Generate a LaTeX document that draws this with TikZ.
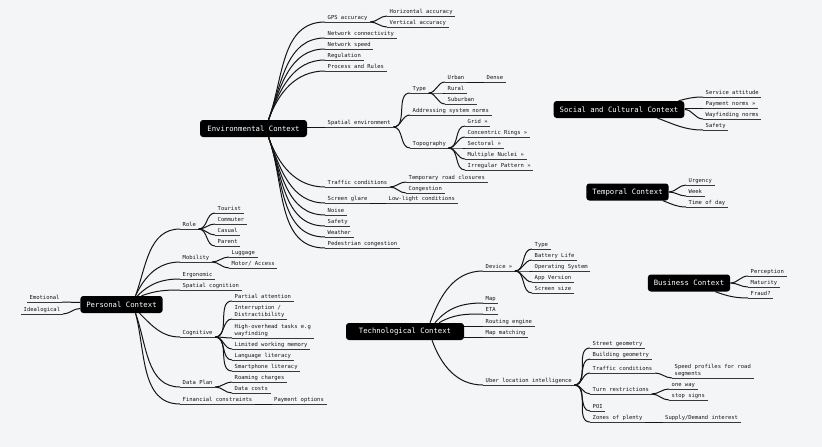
\documentclass[tikz,border=0pt]{standalone}
\usepackage{fontspec}
\newfontfamily\mapfont{DejaVu Sans Mono}
\newcommand\leaffont{\mapfont\fontsize{5.5}{7.5}\selectfont}
\newcommand\ctxfont{\mapfont\fontsize{7.3}{8}\selectfont}
\definecolor{ink}{HTML}{151515}
\definecolor{paper}{HTML}{F4F5F7}
\tikzset{
  ctx/.style={fill=black, text=white, font=\ctxfont, rounded corners=3pt, inner xsep=6pt, minimum height=17pt},
  uline/.style={draw=ink!85, line width=1pt},
  link/.style={draw=ink, line width=1pt},
  leaf/.style={anchor=south west, font=\leaffont, text=ink, inner xsep=2.5pt, inner ysep=1pt,
    text height=4pt, text depth=1.2pt,
    append after command={(\tikzlastnode.south west) edge[uline] (\tikzlastnode.south east)}},
  twoline/.style={align=left, text height=, text depth=},
  branch/.style={out=0, in=180}
}
\begin{document}
\begin{tikzpicture}[x=1pt,y=-1pt]
\fill[paper] (0,0) rectangle (822,447);

% main contexts
\node[ctx, minimum width=107pt] (env) at (253.5,128.5) {Environmental Context};
\node[ctx] (soc) at (619,109.5) {Social and Cultural Context};
\node[ctx] (temp) at (627.5,192) {Temporal Context};
\node[ctx] (bus) at (689,283) {Business Context};
\node[ctx] (pers) at (121.5,304.5) {Personal Context};
\node[ctx, minimum width=118pt] (tech) at (405,331.5) {Technological Context};

% environmental
\node[leaf] (gps) at (325,22) {GPS accuracy};
\node[leaf] (hacc) at (387,16) {Horizontal accuracy};
\node[leaf] (vacc) at (387,27) {Vertical accuracy};
\node[leaf] (netcon) at (325,38) {Network connectivity};
\node[leaf] (netspd) at (325,49) {Network speed};
\node[leaf] (regul) at (325,60) {Regulation};
\node[leaf] (procr) at (325,71) {Process and Rules};
\node[leaf] (spat) at (325,127) {Spatial environment};
\node[leaf] (stype) at (410,93) {Type};
\node[leaf] (urban) at (445,82) {Urban};
\node[leaf] (dense) at (484,82) {Dense};
\node[leaf] (rural) at (445,93) {Rural};
\node[leaf] (suburb) at (445,104) {Suburban};
\node[leaf] (addr) at (410,115) {Addressing system norms};
\node[leaf] (topo) at (410,148) {Topography};
\node[leaf] (grid) at (465,126) {Grid »};
\node[leaf] (conc) at (465,137) {Concentric Rings »};
\node[leaf] (sect) at (465,148) {Sectoral »};
\node[leaf] (nucl) at (465,159) {Multiple Nuclei »};
\node[leaf] (irreg) at (465,170) {Irregular Pattern »};
\node[leaf] (traf) at (325,187) {Traffic conditions};
\node[leaf] (tmpcl) at (406,182) {Temporary road closures};
\node[leaf] (cong) at (406,193) {Congestion};
\node[leaf] (glare) at (325,203) {Screen glare};
\node[leaf] (lowl) at (386,203) {Low-light conditions};
\node[leaf] (noise) at (325,215) {Noise};
\node[leaf] (esafe) at (325,226) {Safety};
\node[leaf] (weath) at (325,237) {Weather};
\node[leaf] (pedc) at (325,248) {Pedestrian congestion};

\draw[link] ([xshift=15pt]env.north) to[out=70,in=180] (gps.south west);
\draw[link] ([xshift=15pt]env.north) to[out=70,in=180] (netcon.south west);
\draw[link] ([xshift=15pt]env.north) to[out=70,in=180] (netspd.south west);
\draw[link] ([xshift=15pt]env.north) to[out=70,in=180] (regul.south west);
\draw[link] ([xshift=15pt]env.north) to[out=70,in=180] (procr.south west);
\draw[link] (gps.south east) to[branch] (hacc.south west);
\draw[link] (gps.south east) to[branch] (vacc.south west);
\draw[link] (env.east |- spat.south west) -- (spat.south west);
\draw[link] (spat.south east) to[branch] (stype.south west);
\draw[link] (spat.south east) to[branch] (addr.south west);
\draw[link] (spat.south east) to[branch] (topo.south west);
\draw[link] (stype.south east) to[branch] (urban.south west);
\draw[link] (stype.south east) to[branch] (rural.south west);
\draw[link] (stype.south east) to[branch] (suburb.south west);
\draw[link] (urban.south east) -- (dense.south west);
\draw[link] (topo.south east) to[branch] (grid.south west);
\draw[link] (topo.south east) to[branch] (conc.south west);
\draw[link] (topo.south east) to[branch] (sect.south west);
\draw[link] (topo.south east) to[branch] (nucl.south west);
\draw[link] (topo.south east) to[branch] (irreg.south west);
\draw[link] ([xshift=15pt]env.south) to[out=-70,in=180] (traf.south west);
\draw[link] ([xshift=15pt]env.south) to[out=-70,in=180] (glare.south west);
\draw[link] ([xshift=15pt]env.south) to[out=-70,in=180] (noise.south west);
\draw[link] ([xshift=15pt]env.south) to[out=-70,in=180] (esafe.south west);
\draw[link] ([xshift=15pt]env.south) to[out=-70,in=180] (weath.south west);
\draw[link] ([xshift=15pt]env.south) to[out=-70,in=180] (pedc.south west);
\draw[link] (traf.south east) to[branch] (tmpcl.south west);
\draw[link] (traf.south east) to[branch] (cong.south west);
\draw[link] (glare.south east) -- (lowl.south west);

% social, temporal, business
\node[leaf] (svc) at (703,97) {Service attitude};
\node[leaf] (paym) at (703,108) {Payment norms »};
\node[leaf] (wayf) at (703,119) {Wayfinding norms};
\node[leaf] (ssafe) at (703,130) {Safety};
\draw[link] ([xshift=-6pt]soc.north east) to[out=15,in=180] (svc.south west);
\draw[link] (soc.east |- paym.south west) -- (paym.south west);
\draw[link] (soc.east) to[branch] (wayf.south west);
\draw[link] ([xshift=-27pt]soc.south east) to[out=-20,in=180] (ssafe.south west);

\node[leaf] (urg) at (686,185) {Urgency};
\node[leaf] (week) at (686,196) {Week};
\node[leaf] (tod) at (686,207) {Time of day};
\draw[link] (temp.east) to[branch] (urg.south west);
\draw[link] (temp.east) to[branch] (week.south west);
\draw[link] ([xshift=-6pt]temp.south east) to[out=-20,in=180] (tod.south west);

\node[leaf] (perc) at (748,276) {Perception};
\node[leaf] (matur) at (748,287) {Maturity};
\node[leaf] (fraud) at (748,298) {Fraud?};
\draw[link] (bus.east) to[branch] (perc.south west);
\draw[link] (bus.east) to[branch] (matur.south west);
\draw[link] ([xshift=-15pt]bus.south east) to[out=-20,in=180] (fraud.south west);

% personal
\node[leaf] (emo) at (27,302) {Emotional};
\node[leaf] (ideal) at (21,314) {Idealogical};
\draw[link] (emo.south east) to[branch] ([yshift=2pt]pers.west);
\draw[link] (ideal.south east) to[branch] ([yshift=-4pt]pers.west);
\node[leaf] (role) at (180,229) {Role};
\node[leaf] (tour) at (215,213) {Tourist};
\node[leaf] (comm) at (215,224) {Commuter};
\node[leaf] (casual) at (215,235) {Casual};
\node[leaf] (parent) at (215,246) {Parent};
\node[leaf] (mobil) at (180,262) {Mobility};
\node[leaf] (lugg) at (229,257) {Luggage};
\node[leaf] (motor) at (229,268) {Motor/ Access};
\node[leaf] (ergo) at (180,279) {Ergonomic};
\node[leaf] (spcog) at (180,290) {Spatial cognition};
\node[leaf] (cogn) at (180,337) {Cognitive};
\node[leaf] (partial) at (232,301) {Partial attention};
\node[leaf, twoline] (interr) at (232,319) {Interruption /\\Distractibility};
\node[leaf, twoline] (hiover) at (232,338) {High-overhead tasks e.g\\wayfinding};
\node[leaf] (limwm) at (232,349) {Limited working memory};
\node[leaf] (langl) at (232,360) {Language literacy};
\node[leaf] (smartl) at (232,371) {Smartphone literacy};
\node[leaf] (dplan) at (180,387) {Data Plan};
\node[leaf] (roam) at (232,382) {Roaming charges};
\node[leaf] (dcost) at (232,393) {Data costs};
\node[leaf] (finc) at (180,404) {Financial constraints};
\node[leaf] (payopt) at (271.5,404) {Payment options};

\draw[link] ([xshift=14pt]pers.north) to[out=70,in=180] (role.south west);
\draw[link] ([xshift=14pt]pers.north) to[out=65,in=180] (mobil.south west);
\draw[link] ([xshift=16pt]pers.north) to[out=45,in=180] (ergo.south west);
\draw[link] ([xshift=20pt]pers.north) to[out=20,in=180] (spcog.south west);
\draw[link] (role.south east) to[branch] (tour.south west);
\draw[link] (role.south east) to[branch] (comm.south west);
\draw[link] (role.south east) to[branch] (casual.south west);
\draw[link] (role.south east) to[branch] (parent.south west);
\draw[link] (mobil.south east) to[branch] (lugg.south west);
\draw[link] (mobil.south east) to[branch] (motor.south west);
\draw[link] ([xshift=18pt]pers.south) to[out=-45,in=180] (cogn.south west);
\draw[link] ([xshift=14pt]pers.south) to[out=-70,in=180] (dplan.south west);
\draw[link] ([xshift=14pt]pers.south) to[out=-75,in=180] (finc.south west);
\draw[link] (cogn.south east) to[branch] (partial.south west);
\draw[link] (cogn.south east) to[branch] (interr.south west);
\draw[link] (cogn.south east) to[branch] (hiover.south west);
\draw[link] (cogn.south east) to[branch] (limwm.south west);
\draw[link] (cogn.south east) to[branch] (langl.south west);
\draw[link] (cogn.south east) to[branch] (smartl.south west);
\draw[link] (dplan.south east) to[branch] (roam.south west);
\draw[link] (dplan.south east) to[branch] (dcost.south west);
\draw[link] (finc.south east) -- (payopt.south west);

% technological
\node[leaf] (dev) at (483,271) {Device »};
\node[leaf] (dtype) at (532,249) {Type};
\node[leaf] (batt) at (532,260) {Battery Life};
\node[leaf] (opsys) at (532,271) {Operating System};
\node[leaf] (appv) at (532,282) {App Version};
\node[leaf] (scrsz) at (532,293) {Screen size};
\node[leaf] (map) at (483,303) {Map};
\node[leaf] (eta) at (483,314) {ETA};
\node[leaf] (route) at (483,326) {Routing engine};
\node[leaf] (mapm) at (483,337) {Map matching};
\node[leaf] (uber) at (483,385) {Uber location intelligence};
\node[leaf] (street) at (590,348) {Street geometry};
\node[leaf] (build) at (590,359) {Building geometry};
\node[leaf] (utraf) at (590,373) {Traffic conditions};
\node[leaf, twoline] (speed) at (672,378) {Speed profiles for road\\segments};
\node[leaf] (turn) at (590,394) {Turn restrictions};
\node[leaf] (oneway) at (669,389) {one way};
\node[leaf] (stops) at (669,400) {stop signs};
\node[leaf] (poi) at (590,411) {POI};
\node[leaf] (zones) at (590,422) {Zones of plenty};
\node[leaf] (supply) at (662.5,422) {Supply/Demand interest};

\draw[link] ([xshift=25pt]tech.north) to[out=70,in=180] (dev.south west);
\draw[link] ([xshift=30pt]tech.north) to[out=50,in=180] (map.south west);
\draw[link] ([xshift=34pt]tech.north) to[out=30,in=180] (eta.south west);
\draw[link] (tech.east |- route.south west) -- (route.south west);
\draw[link] (tech.east |- mapm.south west) -- (mapm.south west);
\draw[link] (dev.south east) to[branch] (dtype.south west);
\draw[link] (dev.south east) to[branch] (batt.south west);
\draw[link] (dev.south east) to[branch] (opsys.south west);
\draw[link] (dev.south east) to[branch] (appv.south west);
\draw[link] (dev.south east) to[branch] (scrsz.south west);
\draw[link] ([xshift=27pt]tech.south) to[out=-70,in=180] (uber.south west);
\draw[link] (uber.south east) to[branch] (street.south west);
\draw[link] (uber.south east) to[branch] (build.south west);
\draw[link] (uber.south east) to[branch] (utraf.south west);
\draw[link] (uber.south east) to[branch] (turn.south west);
\draw[link] (uber.south east) to[branch] (poi.south west);
\draw[link] (uber.south east) to[branch] (zones.south west);
\draw[link] (utraf.south east) to[branch] (speed.south west);
\draw[link] (turn.south east) to[branch] (oneway.south west);
\draw[link] (turn.south east) to[branch] (stops.south west);
\draw[link] (zones.south east) -- (supply.south west);
\end{tikzpicture}
\end{document}
